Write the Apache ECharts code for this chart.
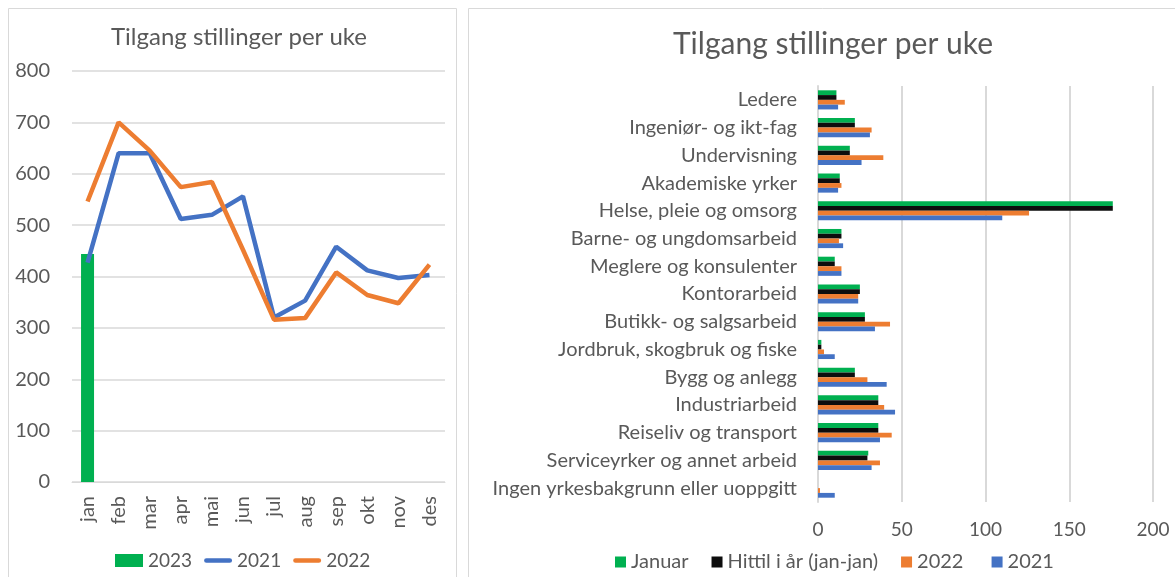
<!DOCTYPE html>
<html>
<head>
<meta charset="utf-8">
<script src="https://cdn.jsdelivr.net/npm/echarts@6/dist/echarts.min.js"></script>
<style>
  html, body { margin: 0; padding: 0; background: #fff; }
  #main { width: 1175px; height: 577px; }
</style>
</head>
<body>
<div id="main"></div>
<script>
// left chart: weekly postings by month
const months = ['jan', 'feb', 'mar', 'apr', 'mai', 'jun', 'jul', 'aug', 'sep', 'okt', 'nov', 'des'];
const y2023 = [444, null, null, null, null, null, null, null, null, null, null, null];
const y2021 = [427, 640, 640, 512, 520, 556, 320, 353, 458, 412, 397, 403];
const y2022 = [546, 700, 645, 574, 584, 452, 316, 319, 408, 364, 348, 423];

// right chart: by occupation
const occupations = [
  'Ledere', 'Ingeniør- og ikt-fag', 'Undervisning', 'Akademiske yrker',
  'Helse, pleie og omsorg', 'Barne- og ungdomsarbeid', 'Meglere og konsulenter',
  'Kontorarbeid', 'Butikk- og salgsarbeid', 'Jordbruk, skogbruk og fiske',
  'Bygg og anlegg', 'Industriarbeid', 'Reiseliv og transport',
  'Serviceyrker og annet arbeid', 'Ingen yrkesbakgrunn eller uoppgitt'
];
const januar = [11, 22, 19, 13, 176, 14, 10, 25, 28, 2, 22, 36, 36, 30, 0];
const hittil = [11, 22, 19, 13, 176, 14, 10, 25, 28, 2, 22, 36, 36, 29.5, 0];
const occ2022 = [16, 32, 39, 14, 126, 12.5, 14, 24, 43, 3.6, 29.5, 39.5, 44, 37, 1.2];
const occ2021 = [12, 31, 26, 12, 110, 15, 14, 24, 34, 10, 41, 46, 37, 32, 10];

const GREEN = '#00b050', BLUE = '#4472c4', ORANGE = '#ed7d31', BLACK = '#0d0d0d';
const TXT = '#595959';
const FONT = 'Lato';
const LINE_ICON = 'path://M2.5,0 L27.5,0 A2.5,2.5 0 0 1 27.5,5 L2.5,5 A2.5,2.5 0 0 1 2.5,0 Z';

const chart = echarts.init(document.getElementById('main'));
chart.setOption({
  animation: false,
  textStyle: { fontFamily: FONT, color: TXT },
  title: [
    { text: 'Tilgang stillinger per uke', left: 234, top: 20, textAlign: 'center',
      textStyle: { fontFamily: FONT, fontSize: 24, fontWeight: 'normal', color: TXT } },
    { text: 'Tilgang stillinger per uke', left: 828, top: 24, textAlign: 'center',
      textStyle: { fontFamily: FONT, fontSize: 30, fontWeight: 'normal', color: TXT } }
  ],
  graphic: [
    { type: 'rect', shape: { x: 8.5, y: 8.5, width: 448, height: 580 },
      style: { fill: 'none', stroke: '#d9d9d9', lineWidth: 1 }, z: -1 },
    { type: 'rect', shape: { x: 468.5, y: 8.5, width: 720, height: 580 },
      style: { fill: 'none', stroke: '#d9d9d9', lineWidth: 1 }, z: -1 }
  ],
  legend: [
    { data: [{ name: '2023', icon: 'rect' }, { name: '2021', icon: LINE_ICON }, { name: '2022', icon: LINE_ICON }],
      left: 110, top: 546, itemWidth: 28, itemHeight: 13, itemGap: 12,
      textStyle: { fontFamily: FONT, fontSize: 19, color: TXT } },
    { data: ['Januar', 'Hittil i år (jan-jan)', '2022 ', '2021 '],
      left: 610, top: 547, icon: 'rect', itemWidth: 11, itemHeight: 11, itemGap: 23,
      textStyle: { fontFamily: FONT, fontSize: 20, color: TXT } }
  ],
  grid: [
    { left: 72, top: 71, width: 373, height: 411 },
    { left: 818, top: 86, width: 335, height: 416 }
  ],
  xAxis: [
    { type: 'category', gridIndex: 0, data: months,
      axisLine: { lineStyle: { color: '#d9d9d9' } }, axisTick: { show: false },
      axisLabel: { rotate: 90, fontSize: 20, color: TXT, margin: 14, fontFamily: FONT } },
    { type: 'value', gridIndex: 1, min: 0, max: 200, interval: 50,
      axisLine: { show: false }, axisTick: { show: false },
      splitLine: { lineStyle: { color: '#d9d9d9', width: 2 } },
      axisLabel: { fontSize: 19, color: TXT, margin: 18, fontFamily: FONT } }
  ],
  yAxis: [
    { type: 'value', gridIndex: 0, min: 0, max: 800, interval: 100,
      axisLine: { show: false }, axisTick: { show: false },
      splitLine: { lineStyle: { color: '#d9d9d9', width: 1.5 } },
      axisLabel: { fontSize: 20, color: TXT, margin: 22, fontFamily: FONT } },
    { type: 'category', gridIndex: 1, data: occupations, inverse: true,
      axisLine: { lineStyle: { color: '#d9d9d9', width: 2 } }, axisTick: { show: false },
      axisLabel: { fontSize: 20, color: TXT, margin: 21, fontFamily: FONT } }
  ],
  series: [
    { name: '2023', type: 'bar', xAxisIndex: 0, yAxisIndex: 0, data: y2023,
      barWidth: 13, itemStyle: { color: GREEN } },
    { name: '2021', type: 'line', xAxisIndex: 0, yAxisIndex: 0, data: y2021,
      symbol: 'none', lineStyle: { color: BLUE, width: 4.5 }, itemStyle: { color: BLUE } },
    { name: '2022', type: 'line', xAxisIndex: 0, yAxisIndex: 0, data: y2022,
      symbol: 'none', lineStyle: { color: ORANGE, width: 4.5 }, itemStyle: { color: ORANGE } },

    { name: 'Januar', type: 'bar', xAxisIndex: 1, yAxisIndex: 1, data: januar,
      barGap: '0%', barCategoryGap: '31%', itemStyle: { color: GREEN } },
    { name: 'Hittil i år (jan-jan)', type: 'bar', xAxisIndex: 1, yAxisIndex: 1, data: hittil,
      itemStyle: { color: BLACK } },
    { name: '2022 ', type: 'bar', xAxisIndex: 1, yAxisIndex: 1, data: occ2022,
      itemStyle: { color: ORANGE } },
    { name: '2021 ', type: 'bar', xAxisIndex: 1, yAxisIndex: 1, data: occ2021,
      itemStyle: { color: BLUE } }
  ]
});
</script>
</body>
</html>
